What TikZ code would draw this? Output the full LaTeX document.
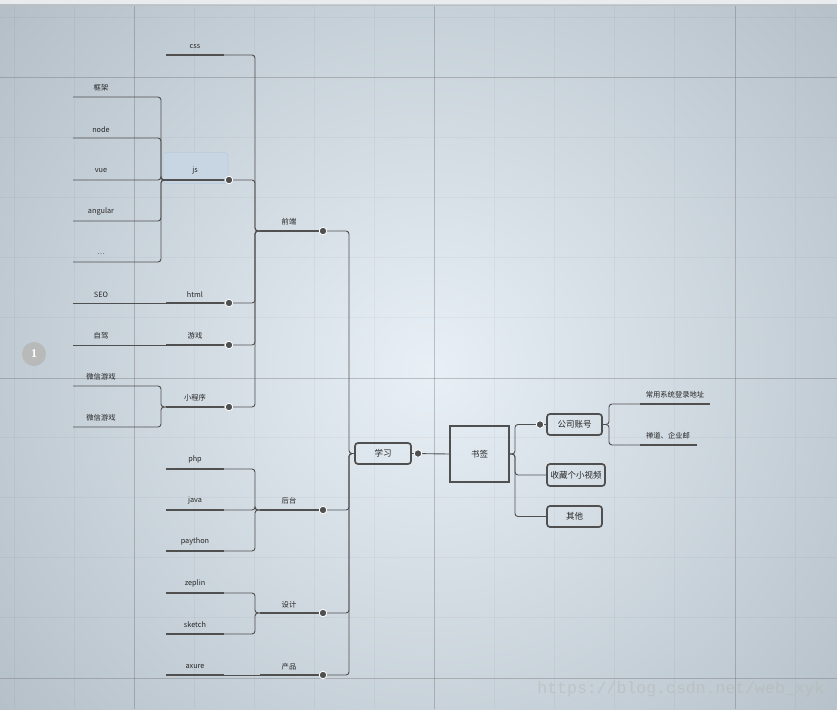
\documentclass[tikz,border=0pt]{standalone}
\usepackage{fontspec}
\setmainfont{Noto Sans CJK SC}
\newfontfamily\wmfont{Liberation Mono}
\newfontfamily\numfont{Liberation Serif}
\definecolor{bgc}{HTML}{E8F0F6}
\definecolor{bge}{HTML}{B2BDC6}
\definecolor{ln}{HTML}{505050}
\definecolor{jsbg}{HTML}{C8D6E4}
\definecolor{jsbd}{HTML}{BCCDDE}
\definecolor{wm}{HTML}{B4B9B6}
\definecolor{topbar}{HTML}{E9ECEF}
\definecolor{onec}{HTML}{B8BABA}
\tikzset{
  lbl/.style={font=\fontsize{7.3}{8}\selectfont, text=black!85, inner sep=0pt, yshift=-1.5pt},
  under/.style={draw=ln, line width=2.3pt},
  conn/.style={draw=ln, line width=0.9pt, rounded corners=3pt},
  topicbox/.style={draw=ln, line width=1.7pt, rounded corners=3pt, font=\fontsize{8.5}{9}\selectfont, inner sep=0pt, text=black!85},
  dotc/.style={circle, fill=ln, draw=white, line width=0.8pt, inner sep=0pt, minimum size=7.5pt},
  minorgrid/.style={draw=black, opacity=0.03, line width=0.8pt},
  majorgrid/.style={draw=black!60, opacity=0.35, line width=0.8pt},
}
\begin{document}
\begin{tikzpicture}[x=1pt,y=-1pt]
\useasboundingbox (0,0) rectangle (837,709);
% background
\begin{scope}
\clip (0,0) rectangle (837,709);
\fill[bge] (0,0) rectangle (837,709);
\shade[inner color=bgc, outer color=bge] (430,370) circle (580pt);
\foreach \gx in {14,74,194,254,314,374,494,554,614,674,795}
  \draw[minorgrid] (\gx,5) -- (\gx,709);
\foreach \gy in {17,137,197,257,317,437,497,557,617}
  \draw[minorgrid] (0,\gy) -- (837,\gy);
\foreach \gx in {134,434.5,735}
  \draw[majorgrid] (\gx,5) -- (\gx,709);
\foreach \gy in {77,378,678}
  \draw[majorgrid] (0,\gy) -- (837,\gy);
\fill[topbar] (0,0) rectangle (837,4.5);
\end{scope}
\draw[draw=black!25, line width=0.6pt] (0,5) -- (837,5);

% watermark
\node[font=\wmfont\fontsize{16.5}{17}\selectfont, text=wm, text opacity=0.55, inner sep=0pt] (wmark) at (681,689) {https://blog.csdn.net/web\_xyk};

% circle 1
\node[circle, fill=onec, minimum size=24pt, inner sep=0pt, text=white, font=\numfont\bfseries\fontsize{12}{12}\selectfont] (one) at (34,354) {1};

% js highlight
\node[draw=jsbd, fill=jsbg, rounded corners=3pt, minimum width=65pt, minimum height=31pt, inner sep=0pt, line width=0.8pt] (jshl) at (195.5,168) {};

% ---------- coordinates ----------
\foreach \n/\y in {kj/97,nd/138,vue/180,ang/221,dd/262,seo/303,zj/345,wxa/386,wxb/427}{
  \coordinate (\n L) at (73,\y);
  \coordinate (\n R) at (161,\y);
}
\foreach \n/\y in {css/55,js/180,html/303,yx/345,xcx/407,php/469,java/510,py/551,zep/593,sk/634,ax/675}{
  \coordinate (\n L) at (166,\y);
  \coordinate (\n R) at (224,\y);
  \coordinate (\n D) at (229,\y);
}
\coordinate (jsL) at (163,180);
\foreach \n/\y in {qd/231,ht/510,sj/613,cp/675}{
  \coordinate (\n L) at (260,\y);
  \coordinate (\n R) at (322,\y);
  \coordinate (\n D) at (323,\y);
}

% ---------- labels ----------
\node[lbl] (kj) at (101,86) {框架};
\node[lbl] (nd) at (101,128) {node};
\node[lbl] (vue) at (101,169) {vue};
\node[lbl] (ang) at (101,210) {angular};
\node[lbl] (dd) at (101,253) {…};
\node[lbl] (seo) at (101,293) {SEO};
\node[lbl] (zj) at (101,334) {自驾};
\node[lbl] (wxa) at (101,375) {微信游戏};
\node[lbl] (wxb) at (101,416) {微信游戏};

\node[lbl] (css) at (195,45) {css};
\node[lbl] (js) at (195,169) {js};
\node[lbl] (html) at (195,293) {html};
\node[lbl] (yx) at (195,334) {游戏};
\node[lbl] (xcx) at (195,396) {小程序};
\node[lbl] (php) at (195,458) {php};
\node[lbl] (java) at (195,499) {java};
\node[lbl] (py) at (195,540) {paython};
\node[lbl] (zep) at (195,582) {zeplin};
\node[lbl] (sk) at (195,623) {sketch};
\node[lbl] (ax) at (195,665) {axure};

\node[lbl] (qd) at (289,220) {前端};
\node[lbl] (ht) at (289,499) {后台};
\node[lbl] (sj) at (289,603) {设计};
\node[lbl] (cp) at (289,665) {产品};

% topic boxes
\node[topicbox, minimum width=56pt, minimum height=21pt] (xx) at (383,453.5) {学习};
\node[topicbox, rounded corners=0pt, line width=2pt, minimum width=59pt, minimum height=56pt] (sq) at (479.5,454) {书签};
\node[topicbox, minimum width=55pt, minimum height=21pt] (gs) at (574.5,424.5) {公司账号};
\node[topicbox, minimum width=58pt, minimum height=22pt] (sc) at (576,475) {收藏个小视频};
\node[topicbox, minimum width=55pt, minimum height=21pt] (qt) at (574.5,516.5) {其他};

\node[lbl] (cy) at (675,393) {常用系统登录地址};
\node[lbl] (cd) at (668,434) {禅道、企业邮};
\coordinate (cyL) at (640,404);
\coordinate (cyR) at (710,404);
\coordinate (cdL) at (640,445);
\coordinate (cdR) at (697,445);
\coordinate (xxD) at (418,453.5);
\coordinate (gsD) at (540,424.5);

% ---------- connectors ----------
\foreach \n in {kj,nd,vue,ang,dd}
  \draw[conn] (\n L) -- (\n R) -- (161,180) -- (jsL);
\draw[conn] (seoL) -- (htmlL);
\draw[conn] (zjL) -- (yxL);
\foreach \n in {wxa,wxb}
  \draw[conn] (\n L) -- (\n R) -- (161,407) -- (xcxL);

\foreach \n in {css,html,yx,xcx,php,java,py,zep,sk,ax}
  \draw[under] (\n L) -- (\n R);
\draw[under] (jsL) -- (jsR);

\foreach \n in {css,js,html,yx,xcx}
  \draw[conn] (\n R) -| (255,231) -- (qdL);
\foreach \n in {php,java,py}
  \draw[conn] (\n R) -| (255,510) -- (htL);
\foreach \n in {zep,sk}
  \draw[conn] (\n R) -| (255,613) -- (sjL);
\draw[conn] (axR) -- (cpL);

\foreach \n in {qd,ht,sj,cp}{
  \draw[under] (\n L) -- (\n R);
  \draw[conn] (\n R) -| (349,453.5) -- (xx.west);
}

\draw[conn] (xx.east) -- (sq.west);
\draw[conn] (sq.east) -| (515,424.5) -- (gs.west);
\draw[conn] (sq.east) -| (515,475) -- (sc.west);
\draw[conn] (sq.east) -| (515,516.5) -- (qt.west);
\draw[conn] (gs.east) -| (609,404) -- (cyL);
\draw[conn] (gs.east) -| (609,445) -- (cdL);
\draw[under] (cyL) -- (cyR);
\draw[under] (cdL) -- (cdR);

\foreach \n in {js,html,yx,xcx,qd,ht,sj,cp,xx,gs}
  \node[dotc] at (\n D) {};
\end{tikzpicture}
\end{document}
